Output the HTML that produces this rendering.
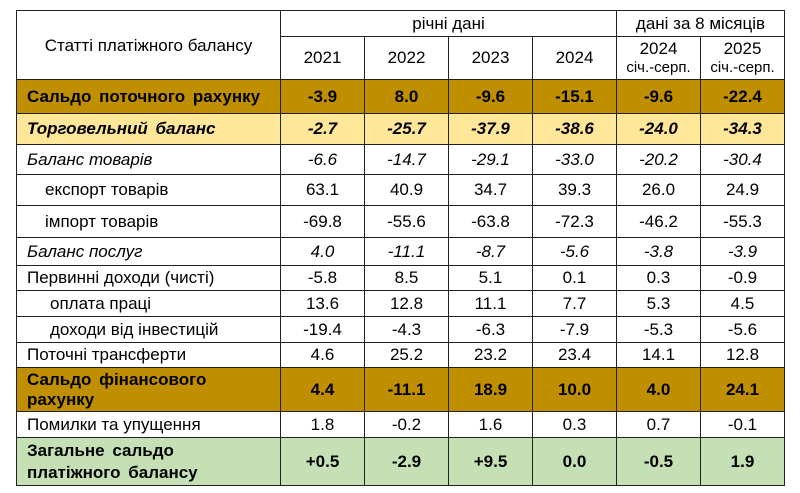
<!DOCTYPE html><html><head><meta charset="utf-8"><style>
body{margin:0;width:800px;height:493px;background:#fff;font-family:"Liberation Sans",sans-serif;overflow:hidden}
table{position:absolute;left:16px;top:10px;border-collapse:collapse;table-layout:fixed}
td{border:1px solid #222;padding:0;font-size:17px;text-align:center;color:#000;line-height:18px;white-space:nowrap}
td.l{text-align:left;padding-left:10px}
.g{background:#BF8F00;font-weight:bold;font-size:17px}
.y{background:#FFE699;font-weight:bold;font-style:italic;font-size:17px}
.gr{background:#C5E0B4;font-weight:bold;font-size:17px}
.i{font-style:italic}
.s{font-size:15px}
</style></head><body>
<table>
<colgroup><col style="width:264px"><col style="width:84px"><col style="width:84px"><col style="width:84px"><col style="width:84px"><col style="width:84px"><col style="width:84px"></colgroup>
<tr style="height:26px"><td rowspan="2" style="font-size:17px;vertical-align:top;padding-top:26px">Статті платіжного балансу</td><td colspan="4">річні дані</td><td colspan="2">дані за 8 місяців</td></tr>
<tr style="height:43px"><td>2021</td><td>2022</td><td>2023</td><td>2024</td><td>2024<br><span class="s">січ.-серп.</span></td><td>2025<br><span class="s">січ.-серп.</span></td></tr>
<tr class="g" style="height:34px"><td class="l" style="word-spacing:3px">Сальдо поточного рахунку</td><td>-3.9</td><td>8.0</td><td>-9.6</td><td>-15.1</td><td>-9.6</td><td>-22.4</td></tr>
<tr class="y" style="height:31px"><td class="l" style="word-spacing:3px">Торговельний баланс</td><td>-2.7</td><td>-25.7</td><td>-37.9</td><td>-38.6</td><td>-24.0</td><td>-34.3</td></tr>
<tr class="i" style="height:30px"><td class="l">Баланс товарів</td><td>-6.6</td><td>-14.7</td><td>-29.1</td><td>-33.0</td><td>-20.2</td><td>-30.4</td></tr>
<tr style="height:31px"><td class="l" style="padding-left:28px">експорт товарів</td><td>63.1</td><td>40.9</td><td>34.7</td><td>39.3</td><td>26.0</td><td>24.9</td></tr>
<tr style="height:32px"><td class="l" style="padding-left:28px">імпорт товарів</td><td>-69.8</td><td>-55.6</td><td>-63.8</td><td>-72.3</td><td>-46.2</td><td>-55.3</td></tr>
<tr class="i" style="height:28px"><td class="l">Баланс послуг</td><td>4.0</td><td>-11.1</td><td>-8.7</td><td>-5.6</td><td>-3.8</td><td>-3.9</td></tr>
<tr style="height:25px"><td class="l">Первинні доходи (чисті)</td><td>-5.8</td><td>8.5</td><td>5.1</td><td>0.1</td><td>0.3</td><td>-0.9</td></tr>
<tr style="height:26px"><td class="l" style="padding-left:33px">оплата праці</td><td>13.6</td><td>12.8</td><td>11.1</td><td>7.7</td><td>5.3</td><td>4.5</td></tr>
<tr style="height:26px"><td class="l" style="padding-left:33px">доходи від інвестицій</td><td>-19.4</td><td>-4.3</td><td>-6.3</td><td>-7.9</td><td>-5.3</td><td>-5.6</td></tr>
<tr style="height:25px"><td class="l">Поточні трансферти</td><td>4.6</td><td>25.2</td><td>23.2</td><td>23.4</td><td>14.1</td><td>12.8</td></tr>
<tr class="g" style="height:44px"><td class="l" style="line-height:20px;word-spacing:3px">Сальдо фінансового<br>рахунку</td><td>4.4</td><td>-11.1</td><td>18.9</td><td>10.0</td><td>4.0</td><td>24.1</td></tr>
<tr style="height:26px"><td class="l">Помилки та упущення</td><td>1.8</td><td>-0.2</td><td>1.6</td><td>0.3</td><td>0.7</td><td>-0.1</td></tr>
<tr class="gr" style="height:48px"><td class="l" style="line-height:22px;word-spacing:3px">Загальне сальдо<br>платіжного балансу</td><td>+0.5</td><td>-2.9</td><td>+9.5</td><td>0.0</td><td>-0.5</td><td>1.9</td></tr>
</table>
</body></html>
